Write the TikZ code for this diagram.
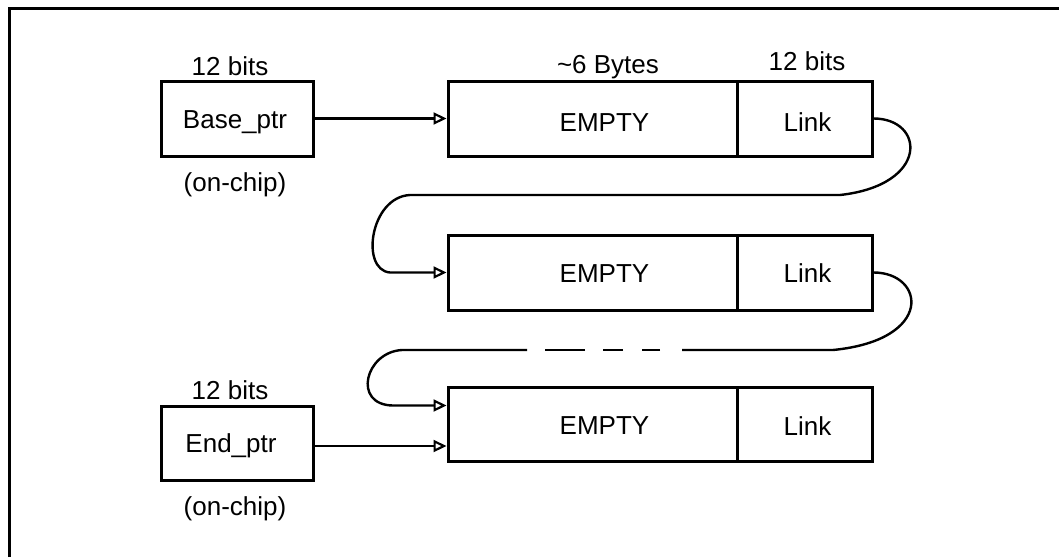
\documentclass[tikz,border=0pt]{standalone}
\usepackage{fontspec}
\setmainfont{Liberation Sans}
\usetikzlibrary{arrows.meta}
\begin{document}
\begin{tikzpicture}[x=1pt,y=-1pt,
  txt/.style={font=\fontsize{26}{31}\selectfont},
  box/.style={draw,line width=3pt,minimum height=75pt,inner sep=0pt},
  lbl/.style={inner sep=0pt,txt},
  conn/.style={line width=2.4pt},
  arr/.style={line width=2.4pt,-{Triangle[open,length=13pt,width=12pt,line width=2.2pt]}}]
\useasboundingbox (0,0) rectangle (1059,557);
% frame
\draw[line width=3pt] (9.5,557) -- (9.5,8.5) -- (1059,8.5);
% pointer boxes
\node[box,minimum width=152pt] (base) at (237,118.5) {};
\node[box,minimum width=152pt,minimum height=74pt] (endp) at (237,443) {};
% list blocks
\node[box,minimum width=289pt] (e1) at (592.5,118.5) {};
\node[box,minimum width=135pt] (l1) at (804.5,118.5) {};
\node[box,minimum width=289pt] (e2) at (592.5,272.5) {};
\node[box,minimum width=135pt] (l2) at (804.5,272.5) {};
\node[box,minimum width=289pt,minimum height=74pt] (e3) at (592.5,424) {};
\node[box,minimum width=135pt,minimum height=74pt] (l3) at (804.5,424) {};
% box texts
\node[lbl] (tb) at ([xshift=-2pt,yshift=-4pt]base) {Base\_ptr};
\node[lbl] (te) at ([xshift=-6pt,yshift=-3pt]endp) {End\_ptr};
\node[lbl] (t1) at ([xshift=12pt,yshift=-4pt]e1) {EMPTY};
\node[lbl] (t2) at ([xshift=12pt,yshift=-1pt]e2) {EMPTY};
\node[lbl] (t3) at ([xshift=12pt,yshift=-2pt]e3) {EMPTY};
\node[lbl] (k1) at ([xshift=3pt,yshift=-4pt]l1) {Link};
\node[lbl] (k2) at ([xshift=3pt,yshift=-1pt]l2) {Link};
\node[lbl] (k3) at ([xshift=3pt,yshift=-2pt]l3) {Link};
% labels
\node[lbl,anchor=base] (bb) at (230,75) {12 bits};
\node[lbl,anchor=base] (bo) at (235,191) {(on-chip)};
\node[lbl,anchor=base] (eb) at (230,399) {12 bits};
\node[lbl,anchor=base] (eo) at (235,515) {(on-chip)};
\node[lbl,anchor=base] (sz) at (608,73) {\textasciitilde 6 Bytes};
\node[lbl,anchor=base] (lb) at (807,70) {12 bits};
% connectors
\draw[arr] (base) -- (e1);
\draw[arr] ([yshift=-3pt]endp.east) -- ([yshift=-3pt]endp.east -| e3.west);
\draw[arr] (l1.east) .. controls (925,118.5) and (930,185) .. (840,195) -- (410,195)
  .. controls (370,197) and (360,270) .. (390,272.5) -- (e2.west);
\draw[conn] (l2.east) .. controls (925,272.5) and (935,340) .. (833,350) -- (682,350) coordinate (g1);
\draw[conn] (660,350) -- (642,350);
\draw[conn] (623,350) -- (603,350);
\draw[conn] (585,350) -- (545,350);
\coordinate (g2) at (527,350);
\draw[arr] (g2) -- (402,350) .. controls (365,352) and (352,405) .. (393,405.5) -- ([yshift=18.5pt]e3.west);
\end{tikzpicture}
\end{document}
